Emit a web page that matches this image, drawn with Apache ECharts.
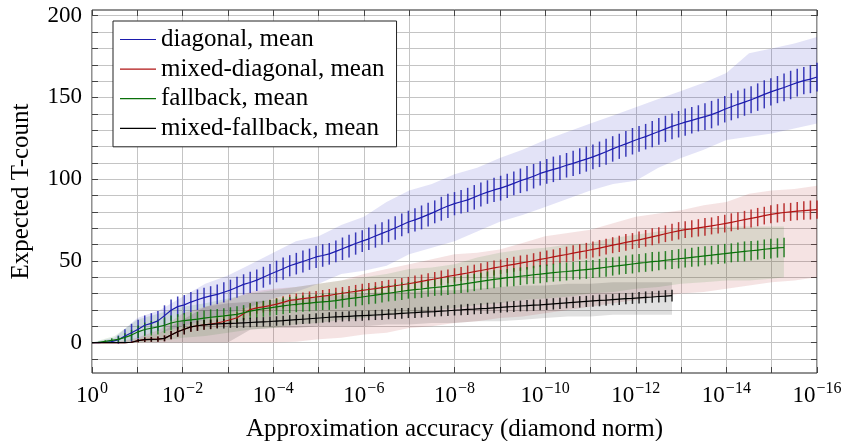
<!DOCTYPE html>
<html><head><meta charset="utf-8">
<script src="https://cdn.jsdelivr.net/npm/echarts@6/dist/echarts.min.js"></script>
<style>html,body{margin:0;padding:0;background:#fff}#c{width:848px;height:441px}</style>
</head><body><div id="c"></div>
<script>
// x = decades of accuracy (accuracy = 10^-x); samples k = 0..N at x = 16k/110
const DECADES = 16, STEPS = 110;
const xLabelDecades = [0, 2, 4, 6, 8, 10, 12, 14, 16];
const yLabelValues = [0, 50, 100, 150, 200];
const names = ['diagonal, mean', 'mixed-diagonal, mean', 'fallback, mean', 'mixed-fallback, mean'];

const diagonalMean = [0,0,0.2,0.6,1.8,4.0,6.0,8.2,10.6,11.8,13.3,16.5,19.8,22.0,23.1,24.8,26.2,27.5,28.6,29.5,30.8,32.2,33.9,35.6,36.8,38.2,40.0,41.8,43.5,45.2,47.0,48.3,49.6,51.0,52.4,53.3,54.3,55.8,57.4,59.0,60.6,62.1,63.5,65.2,66.8,68.4,70.1,72.0,73.8,75.1,76.6,78.3,80.0,81.9,83.6,85.0,86.2,87.3,88.9,90.6,92.1,93.4,94.5,95.9,97.4,99.0,100.3,101.8,103.5,104.8,106.0,107.1,108.5,109.7,111.0,112.3,113.6,115.2,116.8,118.5,120.1,121.6,123.2,124.7,126.0,127.6,129.2,130.8,132.3,133.6,134.9,136.0,137.2,138.3,139.5,141.0,142.8,144.3,145.8,147.1,148.6,150.2,151.9,153.4,154.8,156.1,157.6,159.1,160.3,161.2,162.5];
const diagonalStd = [0,0,0.3,0.8,2.5,4.2,5.5,5.8,6.0,6.2,6.0,6.3,6.5,6.2,6.0,6.1,6.3,6.0,5.9,6.1,6.2,6.3,6.4,6.2,6.5,6.6,6.4,6.3,6.6,6.8,6.5,6.6,6.7,6.5,6.8,6.9,6.6,6.7,6.9,7.0,6.8,6.7,6.9,7.1,6.9,7.0,7.2,7.0,6.9,7.1,7.3,7.2,7.0,7.3,7.4,7.1,7.2,7.4,7.5,7.3,7.2,7.4,7.6,7.4,7.3,7.5,7.7,7.5,7.4,7.6,7.8,7.6,7.5,7.7,7.9,7.7,7.6,7.8,8.0,7.8,7.7,7.9,8.1,7.9,7.8,8.0,8.2,8.0,7.9,8.1,8.3,8.1,8.0,8.2,8.4,8.2,8.1,8.3,8.5,8.3,8.2,8.4,8.6,8.4,8.3,8.5,8.7,8.5,8.4,8.6,8.8];

const mixedDiagonalMean = [0,0,0,0,0,0,0.2,1.2,1.8,2.0,2.1,2.6,4.6,6.6,8.2,9.6,10.3,10.9,11.3,12.0,12.9,14.0,15.2,17.6,20.2,21.2,21.9,22.6,23.5,24.6,25.8,26.3,26.9,27.4,27.9,28.4,28.9,29.6,30.2,30.8,31.3,31.9,32.5,33.0,33.6,34.2,34.8,35.4,36.0,36.7,37.5,38.2,38.9,39.7,40.5,41.2,41.9,42.6,43.4,44.1,44.9,45.7,46.4,47.2,47.9,48.6,49.3,50.1,50.9,51.6,52.4,53.2,53.9,54.7,55.5,56.2,57.0,57.8,58.7,59.6,60.4,61.3,62.1,62.9,63.8,64.7,65.6,66.6,67.5,68.4,69.1,69.6,70.2,70.8,71.4,72.1,72.8,73.6,74.4,75.2,76.0,76.8,77.7,78.5,79.1,79.6,80.0,80.4,80.8,81.1,81.4];
const mixedDiagonalStd = [0,0,0,0,0,0,0.3,1.0,1.5,1.5,1.6,1.8,2.5,3.0,3.2,3.0,3.1,3.0,2.9,3.0,3.1,3.2,3.4,3.6,3.8,3.6,3.5,3.6,3.7,3.8,3.6,3.7,3.8,3.9,3.7,3.8,3.9,4.0,3.8,3.9,4.0,4.1,3.9,4.0,4.1,4.2,4.0,4.1,4.2,4.3,4.1,4.2,4.3,4.4,4.2,4.3,4.4,4.5,4.3,4.4,4.5,4.6,4.4,4.5,4.6,4.7,4.5,4.6,4.7,4.8,4.6,4.7,4.8,4.9,4.7,4.8,4.9,5.0,4.8,4.9,5.0,5.1,4.9,5.0,5.1,5.2,5.0,5.1,5.2,5.3,5.1,5.2,5.3,5.4,5.2,5.3,5.4,5.5,5.3,5.4,5.5,5.6,5.4,5.5,5.6,5.7,5.5,5.6,5.7,5.8,5.6];

const fallbackMean = [0,0.2,0.7,1.4,2.0,3.2,4.6,6.6,8.0,8.8,9.6,10.6,12.0,12.9,13.4,13.9,14.4,15.0,15.5,15.9,16.3,16.8,17.3,18.2,19.3,20.0,20.7,21.3,21.9,22.5,23.0,23.4,23.8,24.2,24.6,24.9,25.2,25.7,26.3,26.9,27.4,27.9,28.5,29.1,29.7,30.2,30.8,31.4,32.0,32.4,32.8,33.3,33.7,34.1,34.6,35.0,35.6,36.2,36.8,37.5,38.1,38.7,39.2,39.7,40.1,40.6,41.0,41.5,41.9,42.4,42.8,43.2,43.5,43.9,44.3,44.7,45.1,45.6,46.1,46.6,47.1,47.6,48.1,48.6,49.0,49.5,49.9,50.4,50.8,51.3,51.7,52.2,52.6,53.1,53.5,54.0,54.4,54.9,55.3,55.8,56.2,56.6,57.1,57.5,57.9,58.2];
const fallbackStd = [0,0.3,0.8,1.2,1.8,2.5,3.2,3.8,4.2,4.5,4.6,4.8,4.6,4.5,4.7,4.6,4.5,4.7,4.8,4.6,4.7,4.8,4.9,4.7,4.8,5.0,4.9,4.8,5.0,5.1,4.9,4.8,5.0,5.1,4.9,5.0,5.2,5.0,4.9,5.1,5.2,5.0,5.1,5.3,5.1,5.0,5.2,5.3,5.1,5.2,5.4,5.2,5.1,5.3,5.4,5.2,5.3,5.5,5.3,5.2,5.4,5.5,5.3,5.4,5.6,5.4,5.3,5.5,5.6,5.4,5.5,5.7,5.5,5.4,5.6,5.7,5.5,5.6,5.8,5.6,5.5,5.7,5.8,5.6,5.7,5.9,5.7,5.6,5.8,5.9,5.7,5.8,6.0,5.8,5.7,5.9,6.0,5.8,5.9,6.1,5.9,5.8,6.0,6.1,5.9,6.0];

const mixedFallbackMean = [0,0,0,0,0,0,0.2,1.2,1.8,2.0,2.1,2.6,4.6,6.6,8.2,9.6,10.3,10.8,11.1,11.4,11.6,11.8,11.9,12.1,12.3,12.5,12.7,12.9,13.2,13.4,13.7,14.0,14.3,14.6,14.9,15.2,15.5,15.7,15.9,16.1,16.3,16.5,16.7,16.9,17.1,17.4,17.6,17.9,18.1,18.3,18.6,18.8,19.0,19.3,19.5,19.8,20.0,20.3,20.5,20.8,21.0,21.3,21.5,21.8,22.1,22.4,22.6,22.9,23.1,23.4,23.7,24.0,24.3,24.6,24.9,25.2,25.5,25.8,26.0,26.3,26.6,26.9,27.1,27.4,27.7,27.9,28.2,28.4,28.7];
const mixedFallbackStd = [0,0,0,0,0,0,0.3,1.0,1.4,1.5,1.6,1.8,2.5,3.0,3.2,3.0,3.1,3.0,2.9,2.8,2.9,2.8,2.9,3.0,2.9,2.8,2.9,3.0,2.9,3.0,3.1,3.0,2.9,3.0,3.1,3.0,3.1,3.2,3.0,3.1,3.2,3.1,3.0,3.1,3.2,3.1,3.2,3.3,3.1,3.2,3.3,3.2,3.1,3.2,3.3,3.2,3.3,3.4,3.2,3.3,3.4,3.3,3.2,3.3,3.4,3.3,3.4,3.5,3.3,3.4,3.5,3.4,3.3,3.4,3.5,3.4,3.5,3.6,3.4,3.5,3.6,3.5,3.4,3.5,3.6,3.5,3.6,3.7,3.6];

// shaded min/max bands (decades, lower, upper)
const diagonalBandX = [0,0.5,1,1.5,2,2.5,3,3.5,4,4.5,5,5.5,6,6.5,7,7.5,8,8.5,9,9.5,10,10.5,11,11.5,12,12.5,13,13.5,14,14.5,15,15.5,16];
const diagonalBandLo = [0,0,2,6,10,14,18,22,27,31,36,42,44,47,54,58,62,68,74,78,83,88,93,97,99,107,113,118,124,126,128,131,134];
const diagonalBandHi = [0,3,15,20,28,36,41,48,55,62,65,72,77,86,93,97,103,107,113,118,124,129,134,139,144,149,154,159,165,177,180,183,187];
const mixedDiagonalBandX = [0,0.5,1,1.5,2,2.5,3,3.5,4,4.5,5,5.5,6,6.5,7,7.5,8,8.5,9,9.5,10,10.5,11,11.5,12,12.5,13,13.5,14,14.5,15,15.5,16];
const mixedDiagonalBandLo = [0,0,0,0,0,0,0,0,0,0.5,2,3,5,6,9,10,12,13,15,16,18,20,22,24,26,28,30,31,33,35,37,38,40];
const mixedDiagonalBandHi = [0,0,3,8,18,22,26,31,33,34,36,38,42,45,48,51,54,55,57,61,65,67,69,73,77,79,81,84,86,91,93,94,96];
const fallbackBandX = [0,0.5,1,1.5,2,2.5,3,3.5,4,4.5,5,5.5,6,6.5,7,7.5,8,8.5,9,9.5,10,10.5,11,11.5,12,12.5,13,13.5,14,14.5,15,15.27];
const fallbackBandLo = [0,0,0,1,3,4,6,8,9,11,12,14,15,17,18,20,21,23,24,26,27,28,30,31,33,34,36,37,38,38,39,40];
const fallbackBandHi = [0,4,14,18,22,24,27,30,32,34,36,38,40,42,45,46,48,52,55,57,58,60,61,64,66,68,70,70,71,71,71,71];
const mixedFallbackBandX = [0,0.5,1,1.5,2,2.5,3,3.5,4,4.5,5,5.5,6,6.5,7,7.5,8,8.5,9,9.5,10,10.5,11,11.5,12,12.5,12.8];
const mixedFallbackBandLo = [0,0,0,0,0,0,0,8,9,9,10,10,10,11,11,12,12,13,13,14,15,16,16,17,17,17,17];
const mixedFallbackBandHi = [0,0,2,6,14,22,24,25,26,27,28,29,30,31,31,32,32,33,34,35,35,36,36,37,37,37,37];

const lineColors = ['#1c1cad', '#b01515', '#0a700a', '#000000'];
const bandColors = ['rgba(40,40,190,0.13)', 'rgba(175,40,40,0.13)', 'rgba(30,120,30,0.12)', 'rgba(0,0,0,0.12)'];

const FONT = 'Liberation Serif';
const xAt = k => k * DECADES / STEPS;

const groups = [
  [diagonalMean, diagonalStd, diagonalBandX, diagonalBandLo, diagonalBandHi],
  [mixedDiagonalMean, mixedDiagonalStd, mixedDiagonalBandX, mixedDiagonalBandLo, mixedDiagonalBandHi],
  [fallbackMean, fallbackStd, fallbackBandX, fallbackBandLo, fallbackBandHi],
  [mixedFallbackMean, mixedFallbackStd, mixedFallbackBandX, mixedFallbackBandLo, mixedFallbackBandHi]
];

const series = [];
groups.forEach((g, i) => {
  const [mean, std, bx, lo, hi] = g;
  const bandData = bx.map((x, j) => [x, lo[j], hi[j]]);
  series.push({
    type: 'custom', name: 'band-' + i, silent: true, z: 1,
    data: bandData,
    renderItem: (params, api) => {
      if (params.dataIndex !== 0) return null;
      const pts = [];
      bandData.forEach(p => pts.push(api.coord([p[0], p[2]])));
      for (let j = bandData.length - 1; j >= 0; j--) pts.push(api.coord([bandData[j][0], bandData[j][1]]));
      return { type: 'polygon', shape: { points: pts }, style: { fill: bandColors[i], stroke: null } };
    }
  });
});
groups.forEach((g, i) => {
  const [mean, std] = g;
  series.push({
    type: 'custom', name: 'err-' + i, silent: true, z: 3,
    data: mean.map((m, k) => [xAt(k), m, std[k]]),
    renderItem: (params, api) => {
      const s = api.value(2);
      if (!s) return null;
      const x = api.value(0), y = api.value(1);
      const p1 = api.coord([x, y - s]), p2 = api.coord([x, y + s]);
      return { type: 'line', shape: { x1: p1[0], y1: p1[1], x2: p2[0], y2: p2[1] },
        style: { stroke: lineColors[i], lineWidth: 1.5, opacity: 0.85 } };
    }
  });
});
groups.forEach((g, i) => {
  series.push({
    type: 'line', name: names[i], z: 4,
    data: g[0].map((m, k) => [xAt(k), m]), symbol: 'none', showSymbol: false,
    lineStyle: { color: lineColors[i], width: 1.2 }, itemStyle: { color: lineColors[i] }
  });
});

const yTickValues = [];
for (let v = -10; v <= 200; v += 10) yTickValues.push(v);

const tickStyle = { show: true, inside: true, length: 6, lineStyle: { color: '#444', width: 1 } };

const chart = echarts.init(document.getElementById('c'), null, { renderer: 'canvas' });
chart.setOption({
  animation: false,
  backgroundColor: '#fff',
  grid: { left: 92, right: 31, top: 10, bottom: 68, outerBoundsMode: 'none', containLabel: false,
    show: true, borderColor: '#222', borderWidth: 1, backgroundColor: 'transparent' },
  legend: {
    data: names, orient: 'vertical', left: 113, top: 21,
    backgroundColor: '#fff', borderColor: '#222', borderWidth: 1,
    padding: [6, 12, 6, 7], itemGap: 4.6, itemWidth: 36, itemHeight: 14,
    textStyle: { fontFamily: FONT, fontSize: 25, color: '#000', lineHeight: 24 },
    icon: 'path://M0,0 L36,0 L36,1.2 L0,1.2 Z', selectedMode: false
  },
  xAxis: [{
    type: 'value', min: 0, max: 16, interval: 1, position: 'bottom',
    axisLine: { show: false, onZero: false }, axisTick: tickStyle,
    splitLine: { show: true, lineStyle: { color: '#c4c4c4', width: 1 } },
    axisLabel: {
      margin: 8, color: '#000',
      formatter: v => xLabelDecades.includes(v) ? (v === 0 ? '{b|10}{s|0}' : '{b|10}{s|\u2212' + v + '}') : '',
      rich: {
        b: { fontFamily: FONT, fontSize: 23, color: '#000' },
        s: { fontFamily: FONT, fontSize: 16, color: '#000', padding: [0, 0, 14, 1] }
      }
    },
    name: 'Approximation accuracy (diamond norm)', nameLocation: 'middle', nameGap: 44,
    nameTextStyle: { fontFamily: FONT, fontSize: 25, color: '#000' }
  }, {
    type: 'value', min: 0, max: 16, interval: 1, position: 'top',
    axisLine: { show: false, onZero: false }, axisTick: tickStyle, splitLine: { show: false }, axisLabel: { show: false }
  }],
  yAxis: [{
    type: 'value', min: -18.6, max: 203.5, position: 'left',
    axisLine: { show: false, onZero: false },
    axisTick: Object.assign({}, tickStyle, { customValues: yTickValues }),
    splitLine: { show: true, lineStyle: { color: '#c4c4c4', width: 1 } },
    axisLabel: { customValues: yLabelValues, margin: 10, color: '#000', fontFamily: FONT, fontSize: 23 },
    name: 'Expected T-count', nameLocation: 'middle', nameGap: 58, nameRotate: 90,
    nameTextStyle: { fontFamily: FONT, fontSize: 25, color: '#000' }
  }, {
    type: 'value', min: -18.6, max: 203.5, position: 'right',
    axisLine: { show: false, onZero: false },
    axisTick: Object.assign({}, tickStyle, { customValues: yTickValues }),
    splitLine: { show: false }, axisLabel: { show: false }
  }],
  series: series
});
</script></body></html>
